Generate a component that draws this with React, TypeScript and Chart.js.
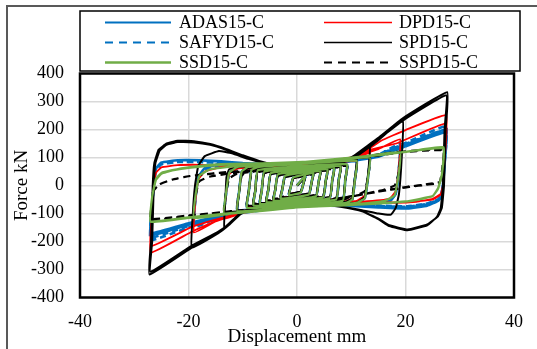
import React, { useEffect, useRef } from "react";
import { Chart, registerables } from "chart.js";

Chart.register(...registerables);

// ---- Data (flat [x, y, x, y, ...] hysteresis paths, displacement mm / force kN) ----
const ADAS15_C = [
  0,0, 1.5,32, 1.2,9, 0.7,-24, -1.5,-32,
  -1.2,-9, -0.7,27, 3,44, 2.7,13, 2.2,-31, -3,-44,
  -2.7,-13, -2.2,33, 4.3,52, 4,15, 3.5,-37, -4.3,-52,
  -4,-15, -3.5,38, 5.6,58, 5.3,17, 4.8,-42, -5.6,-58,
  -5.3,-17, -4.8,43, 6.8,64, 6.5,19, 6,-46, -6.8,-64,
  -6.5,-19, -6,48, 8,70, 7.7,21, 7.2,-50, -8,-70,
  -7.7,-21, -7.2,52, 9.2,74, 8.9,22, 8.4,-54, -9.2,-76,
  -8.9,-23, -8.4,55, -7,64, 0,72, 11,86, 10.7,26, 10.2,-50, 9,-60, 0,-70, -11,-88,
  -10.7,-26, -10.2,50, -9,66, 0,74, 10,86, 13.4,100, 13.1,30, 12.5,-45, 11,-62, 0,-70, -10,-90, -13.4,-105,
  -13.1,-32, -12.5,45, -11,66, -5,74, 0,75, 10,88, 15,105, 19,140, 18.7,42, 18.2,-30, 17,-58, 12,-68, 5,-70, 0,-72, -10,-95, -15,-115, -19,-140,
  -18.7,-42, -18.2,30, -17,62, -14,78, -8,78, 0,75, 10,88, 15,105, 20,145, 27.5,200, 27.2,80, 26.9,0, 26.5,-40, 26,-52, 24,-68, 20.4,-79, 15,-75, 10,-72, 5,-70, 0,-72, -5,-80, -10,-95, -15,-115, -20,-140, -27,-178,
  -26.7,-70, -26.4,0, -26,60, -25,82, -22,90, -18,90, -14,86, -10,80, -5,75, 0,75, 5,80, 10,88, 15,103, 20,140, 27.5,190, 27.2,75, 26.9,0, 26.5,-42, 26,-55, 24,-72, 20.4,-82, 15,-78, 10,-73, 0,-72, -10,-94, -15,-112, -20,-135, -27,-170,
  -26.7,-70, -26.4,0, -26,60, -25,82, -22,90, -18,90, -14,86, -10,80, -5,75, 0,75,
];

const DPD15_C = [
  0,0, 1.5,30, 1.2,8, 0.7,-22, -1.5,-30,
  -1.2,-8, -0.7,26, 3,42, 2.7,12, 2.2,-30, -3,-42,
  -2.7,-12, -2.2,32, 4.3,50, 4,14, 3.5,-36, -4.3,-50,
  -4,-14, -3.5,37, 5.6,56, 5.3,16, 4.8,-40, -5.6,-56,
  -5.3,-16, -4.8,42, 6.8,62, 6.5,18, 6,-45, -6.8,-62,
  -6.5,-18, -6,46, 8,68, 7.7,20, 7.2,-48, -8,-68,
  -7.7,-20, -7.2,50, 9.2,74, 8.9,22, 8.4,-52, -9.2,-74,
  -8.9,-22, -8.4,52, -7,60, 0,66, 11,88, 10.7,26, 10.2,-45, 9,-56, 0,-66, -11,-90,
  -10.7,-27, -10.2,45, -9,60, 0,68, 10,95, 13.4,115, 13.1,35, 12.5,-35, 11,-55, 0,-68, -10,-98, -13.4,-118,
  -13.1,-35, -12.5,40, -11,60, -5,68, 0,70, 10,100, 15,130, 19,165, 18.7,50, 18.2,-20, 17,-48, 12,-58, 5,-64, 0,-70, -10,-98, -15,-128, -19,-168,
  -18.7,-50, -18.2,20, -17,50, -14,66, -8,70, 0,72, 8,88, 12,115, 15.5,160, 20,198, 27.5,251, 27.2,100, 26.9,0, 26.5,-30, 25,-48, 22,-58, 18,-62, 12,-60, 5,-65, 0,-70, -5,-80, -10,-98, -15,-128, -19.4,-165, -27,-240,
  -26.7,-100, -26.4,0, -26,45, -25,65, -22,73, -18,74, -14,72, -10,70, -5,70, 0,72, 5,80, 10,100, 14,130, 18.3,150, 27.5,222, 27.2,90, 26.9,0, 26.5,-32, 25,-50, 20,-60, 12,-60, 5,-65, 0,-70, -10,-96, -15,-122, -19.4,-148, -27,-217,
  -26.7,-100, -26.4,0, -26,45, -25,65, -22,73, -18,74, -14,72, -10,70, -5,70, 0,72,
];

const SAFYD15_C = [
  0,0, 1.5,31, 1.2,9, 0.7,-23, -1.5,-31,
  -1.2,-9, -0.7,26, 3,43, 2.7,13, 2.2,-30, -3,-43,
  -2.7,-13, -2.2,32, 4.3,51, 4,15, 3.5,-36, -4.3,-51,
  -4,-15, -3.5,37, 5.6,57, 5.3,17, 4.8,-41, -5.6,-57,
  -5.3,-17, -4.8,42, 6.8,63, 6.5,19, 6,-45, -6.8,-63,
  -6.5,-19, -6,47, 8,69, 7.7,21, 7.2,-49, -8,-69,
  -7.7,-21, -7.2,51, 9.2,74, 8.9,22, 8.4,-53, -9.2,-76,
  -8.9,-23, -8.4,52, -7,62, 0,70, 11,88, 10.7,26, 10.2,-48, 9,-58, 0,-70, -11,-90,
  -10.7,-26, -10.2,48, -9,64, 0,72, 10,88, 13.4,105, 13.1,32, 12.5,-42, 11,-60, 0,-70, -10,-92, -13.4,-110,
  -13.1,-33, -12.5,42, -11,62, -5,70, 0,72, 10,90, 15,110, 19,148, 18.7,44, 18.2,-28, 17,-56, 12,-66, 5,-68, 0,-72, -10,-98, -15,-120, -19,-148,
  -18.7,-44, -18.2,28, -17,58, -14,72, -8,74, 0,74, 10,90, 15,110, 20,152, 27.5,212, 27.2,85, 26.9,0, 26.5,-38, 26,-50, 24,-64, 20.4,-74, 15,-72, 10,-70, 5,-68, 0,-72, -5,-82, -10,-98, -15,-122, -20,-150, -27,-195,
  -26.7,-75, -26.4,0, -26,55, -25,76, -22,84, -18,84, -14,80, -10,76, -5,73, 0,74, 5,80, 10,90, 15,108, 20,148, 27.5,198, 27.2,80, 26.9,0, 26.5,-40, 26,-52, 24,-66, 20.4,-76, 15,-74, 10,-71, 0,-72, -10,-96, -15,-118, -20,-145, -27,-185,
  -26.7,-75, -26.4,0, -26,55, -25,76, -22,84, -18,84, -14,80, -10,76, -5,73, 0,74,
];

const SPD15_C = [
  0,0, 1.5,30, 1.2,8, 0.7,-22, -1.5,-30,
  -1.2,-8, -0.7,25, 3,42, 2.7,12, 2.2,-30, -3,-42,
  -2.7,-12, -2.2,30, 4.3,50, 4,14, 3.5,-35, -4.3,-50,
  -4,-14, -3.5,35, 5.6,56, 5.3,16, 4.8,-40, -5.6,-56,
  -5.3,-16, -4.8,40, 6.8,62, 6.5,18, 6,-44, -6.8,-62,
  -6.5,-18, -6,45, 8,66, 7.7,20, 7.2,-48, -8,-66,
  -7.7,-20, -7.2,50, 9.2,72, 8.9,22, 8.4,-52, -9.2,-72,
  -8.9,-22, -8.4,50, -7,58, 0,60, 8,78, 11,100, 10.7,30, 10.2,-45, 9,-58, 0,-60, -8,-78, -11,-100,
  -10.7,-30, -10.2,45, -9,62, -5,64, 0,60, 8,80, 11,105, 13.4,145, 13.1,40, 12.5,-40, 11,-62, 5,-64, 0,-60, -8,-80, -11,-108, -13.4,-150,
  -13.2,-50, -13,30, -12.5,58, -10,68, -5,62, 0,60, 5,68, 10,92, 12.5,125, 15,162, 19.5,233, 19.3,100, 18.8,-30, 18.2,-80, 17.3,-104, 15,-100, 12,-88, 8,-75, 4,-65, 0,-62, -5,-70, -10,-95, -12.5,-140, -14.5,-170, -19.4,-222,
  -19.2,-100, -18.8,0, -18.2,70, -17,105, -14.4,123, -12,115, -9,95, -5,75, 0,65, 5,70, 10,100, 12.5,135, 15,170, 19.5,240, 27.7,333, 27.4,200, 27.1,0, 26.7,-80, 26,-110, 24,-139, 20.4,-157, 17,-142, 15,-118, 12,-92, 8,-75, 4,-65, 0,-62, -4,-68, -8,-82, -10,-95, -12.5,-140, -14.5,-170, -19.4,-222, -27.2,-318,
  -26.9,-200, -26.6,0, -26.3,80, -25.5,128, -24,150, -22,160, -19,158, -16,148, -13,130, -10,108, -7,88, -4,74, 0,65, 4,68, 8,85, 10,100, 12.5,132, 15,165, 19.5,232, 27.5,322, 27.2,200, 26.9,0, 26.5,-80, 25.8,-112, 24,-142, 20.4,-160, 17,-145, 15,-120, 12,-92, 8,-76, 4,-66, 0,-62, -4,-68, -8,-82, -10,-95, -12.5,-138, -14.5,-165, -19.4,-215, -27,-308,
  -26.7,-200, -26.4,0, -26.1,80, -25.3,125, -24,146, -22,155, -19,154, -16,145, -13,127, -10,105, -7,86, -4,72, 0,63,
];

const SSD15_C = [
  0,0, 1.5,35, 1.2,10, 0.7,-25, -1.5,-35,
  -1.2,-10, -0.7,28, 3,45, 2.7,14, 2.2,-32, -3,-47,
  -2.7,-14, -2.2,35, 4.3,52, 4,16, 3.5,-38, -4.3,-55,
  -4,-16, -3.5,40, 5.6,58, 5.3,18, 4.8,-42, -5.6,-60,
  -5.3,-18, -4.8,45, 6.8,64, 6.5,20, 6,-46, -6.8,-66,
  -6.5,-20, -6,50, 8,70, 7.7,20, 7.2,-50, -8,-72,
  -7.7,-22, -7.2,55, 9.2,76, 8.9,22, 8.4,-55, -9.2,-80,
  -8.9,-24, -8.4,55, -7,66, 0,76, 11,88, 10.7,25, 10.2,-50, 9,-62, 0,-76, -11,-92,
  -10.7,-28, -10.2,50, -9,66, 0,78, 13.4,100, 13.1,30, 12.5,-45, 11,-62, 0,-78, -13.4,-100,
  -13.1,-30, -12.5,45, -11,66, -5,76, 0,80, 10,98, 19,118, 18.7,35, 18,-35, 16,-56, 10,-68, 0,-78, -10,-95, -19,-116,
  -18.7,-35, -18,35, -16,58, -10,72, 0,82, 10,100, 20,120, 27,137, 26.7,40, 26,-10, 25,-38, 22,-52, 20,-58, 14,-66, 5,-74, 0,-78, -10,-95, -20,-116, -27,-130,
  -26.7,-40, -26,20, -25,42, -23,54, -20,63, -14,74, -5,80, 5,88, 15,108, 27,133, 26.7,38, 26,-12, 25,-38, 20,-57, 10,-70, 0,-78, -10,-94, -20,-114, -27,-128,
  -26.7,-40, -26,24, -25,45, -23,55, -20,65, -14,76, -5,80, 0,82,
];

const SSPD15_C = [
  0,0, 1.5,30, 1.2,8, 0.7,-22, -1.5,-30,
  -1.2,-8, -0.7,24, 3,40, 2.7,12, 2.2,-28, -3,-40,
  -2.7,-12, -2.2,30, 4.3,47, 4,14, 3.5,-33, -4.3,-47,
  -4,-14, -3.5,35, 5.6,53, 5.3,16, 4.8,-37, -5.6,-53,
  -5.3,-16, -4.8,40, 6.8,58, 6.5,18, 6,-41, -6.8,-58,
  -6.5,-18, -6,44, 8,64, 7.7,19, 7.2,-45, -8,-64,
  -7.7,-19, -7.2,48, 9.2,70, 8.9,21, 8.4,-49, -9.2,-70,
  -8.9,-21, -8.4,45, -7,55, 0,66, 11,92, 10.7,25, 10.2,-35, 9,-48, 0,-68, -11,-88,
  -10.7,-26, -10.2,35, -9,50, 0,66, 13.4,102, 13.1,30, 12.5,-20, 11,-35, 0,-68, -13.4,-95,
  -13.1,-28, -12.5,25, -11,42, -5,57, 0,65, 10,95, 19,120, 18.7,40, 18,0, 16,-15, 10,-40, 0,-68, -10,-88, -19,-110,
  -18.7,-35, -18,15, -16,32, -10,50, 0,65, 10,95, 20,122, 27,127, 26.7,50, 26.3,12, 24,5, 20.7,-4, 14.7,-22, 10,-40, 5,-55, 0,-68, -10,-88, -20,-108, -27,-122,
  -26.7,-60, -26.5,-20, -25.4,4, -23,21, -20,33, -14,46, -10,52, -5,58, 0,65, 10,93, 20,120, 27,125, 26.7,48, 26.3,10, 24,3, 20.7,-5, 14.7,-23, 5,-55, 0,-68, -10,-88, -20,-107, -27,-120,
  -26.7,-60, -26.5,-20, -25.4,4, -23,21, -20,33, -14,46, -5,58, 0,65,
];

const SERIES_NAMES = ["ADAS15-C", "DPD15-C", "SAFYD15-C", "SPD15-C", "SSD15-C", "SSPD15-C"];
const SERIES_DATA = [ADAS15_C, DPD15_C, SAFYD15_C, SPD15_C, SSD15_C, SSPD15_C];
const SERIES_COLORS = ["#0070C0", "#FF0000", "#0070C0", "#000000", "#70AD47", "#000000"];
const SERIES_DASH: number[][] = [[], [], [6, 4], [], [], [7, 5]];
const SERIES_WIDTH = [2.6, 1.8, 2.6, 2.0, 2.2, 2.2];
const SERIES_ORDER = [5, 3, 4, 2, 0, 1];
const LEGEND_WIDTH = [2, 1.6, 2, 1.6, 2.4, 1.8];

const X_TICKS = [-40, -20, 0, 20, 40];
const Y_TICKS = [-400, -300, -200, -100, 0, 100, 200, 300, 400];
const X_TITLE = "Displacement mm";
const Y_TITLE = "Force kN";

const FONT = "'Liberation Serif', 'Times New Roman', serif";

function toPoints(arr: number[]) {
  const pts: { x: number; y: number }[] = [];
  for (let i = 0; i + 1 < arr.length; i += 2) pts.push({ x: arr[i], y: arr[i + 1] });
  return pts;
}

const decorPlugin = {
  id: "decor",
  beforeDraw(chart: any) {
    const ctx = chart.ctx;
    ctx.save();
    ctx.fillStyle = "#ffffff";
    ctx.fillRect(0, 0, chart.width, chart.height);
    ctx.strokeStyle = "#595959";
    ctx.lineWidth = 2;
    ctx.beginPath();
    ctx.moveTo(7, chart.height);
    ctx.lineTo(7, 6);
    ctx.lineTo(chart.width, 6);
    ctx.stroke();
    ctx.restore();
  },
  afterDraw(chart: any) {
    const ctx = chart.ctx;
    const a = chart.chartArea;
    ctx.save();
    ctx.strokeStyle = "#000";
    ctx.lineWidth = 2.5;
    ctx.strokeRect(a.left, a.top, a.right - a.left, a.bottom - a.top);
    ctx.fillStyle = "#000";
    ctx.font = `19px ${FONT}`;
    ctx.textAlign = "center";
    ctx.textBaseline = "middle";
    ctx.fillText(X_TITLE, (a.left + a.right) / 2, 337);
    ctx.save();
    ctx.translate(22, (a.top + a.bottom) / 2);
    ctx.rotate(-Math.PI / 2);
    ctx.fillText(Y_TITLE, 0, 0);
    ctx.restore();
    const lx = a.left, ly = 11, lw = 440, lh = 60;
    ctx.fillStyle = "#fff";
    ctx.fillRect(lx, ly, lw, lh);
    ctx.strokeStyle = "#000";
    ctx.lineWidth = 1.5;
    ctx.strokeRect(lx, ly, lw, lh);
    const rows = [22.5, 42.5, 62.5];
    const cols = [
      { x0: 105, x1: 171, tx: 179 },
      { x0: 324, x1: 392, tx: 399 },
    ];
    ctx.font = `18px ${FONT}`;
    ctx.textAlign = "left";
    ctx.textBaseline = "middle";
    SERIES_NAMES.forEach((name, i) => {
      const r = Math.floor(i / 2), c = i % 2;
      const y = rows[r];
      const col = cols[c];
      ctx.strokeStyle = SERIES_COLORS[i];
      ctx.lineWidth = LEGEND_WIDTH[i];
      ctx.setLineDash(SERIES_DASH[i].length ? [8, 6] : []);
      ctx.beginPath();
      ctx.moveTo(col.x0, y);
      ctx.lineTo(col.x1, y);
      ctx.stroke();
      ctx.setLineDash([]);
      ctx.fillStyle = "#000";
      ctx.fillText(name, col.tx, y + 1);
    });
    ctx.restore();
  },
};

export default function App() {
  const ref = useRef<HTMLCanvasElement | null>(null);
  useEffect(() => {
    if (!ref.current) return;
    const chart = new Chart(ref.current, {
      type: "scatter",
      data: {
        datasets: SERIES_NAMES.map((name, i) => ({
          label: name,
          data: toPoints(SERIES_DATA[i]),
          showLine: true,
          borderColor: SERIES_COLORS[i],
          backgroundColor: SERIES_COLORS[i],
          borderWidth: SERIES_WIDTH[i],
          borderDash: SERIES_DASH[i],
          pointRadius: 0,
          pointHoverRadius: 0,
          tension: 0.1,
          fill: false,
          order: SERIES_ORDER[i],
        })),
      },
      options: {
        animation: false,
        responsive: false,
        devicePixelRatio: 1,
        events: [],
        layout: { padding: { left: 7, right: 18, top: 73.5, bottom: 7.5 } },
        plugins: { legend: { display: false }, tooltip: { enabled: false }, title: { display: false } },
        scales: {
          x: {
            type: "linear",
            min: -40,
            max: 40,
            afterBuildTicks: (s: any) => { s.ticks = X_TICKS.map((v) => ({ value: v })); },
            afterFit: (s: any) => { s.height = 44; },
            grid: { color: "#d9d9d9", lineWidth: 1.5, drawTicks: false },
            border: { display: false },
            ticks: { color: "#000", font: { family: FONT, size: 18 }, padding: 14, maxRotation: 0 },
          },
          y: {
            type: "linear",
            min: -400,
            max: 400,
            afterBuildTicks: (s: any) => { s.ticks = Y_TICKS.map((v) => ({ value: v })); },
            afterFit: (s: any) => { s.width = 73; },
            grid: { color: "#d9d9d9", lineWidth: 1.5, drawTicks: false },
            border: { display: false },
            ticks: { color: "#000", font: { family: FONT, size: 18 }, padding: 16 },
          },
        },
      },
      plugins: [decorPlugin],
    });
    return () => chart.destroy();
  }, []);
  return (
    <div style={{ position: "absolute", left: 0, top: 0, width: 537, height: 349, background: "#fff" }}>
      <canvas ref={ref} width={537} height={349} style={{ display: "block", width: 537, height: 349 }} />
    </div>
  );
}
